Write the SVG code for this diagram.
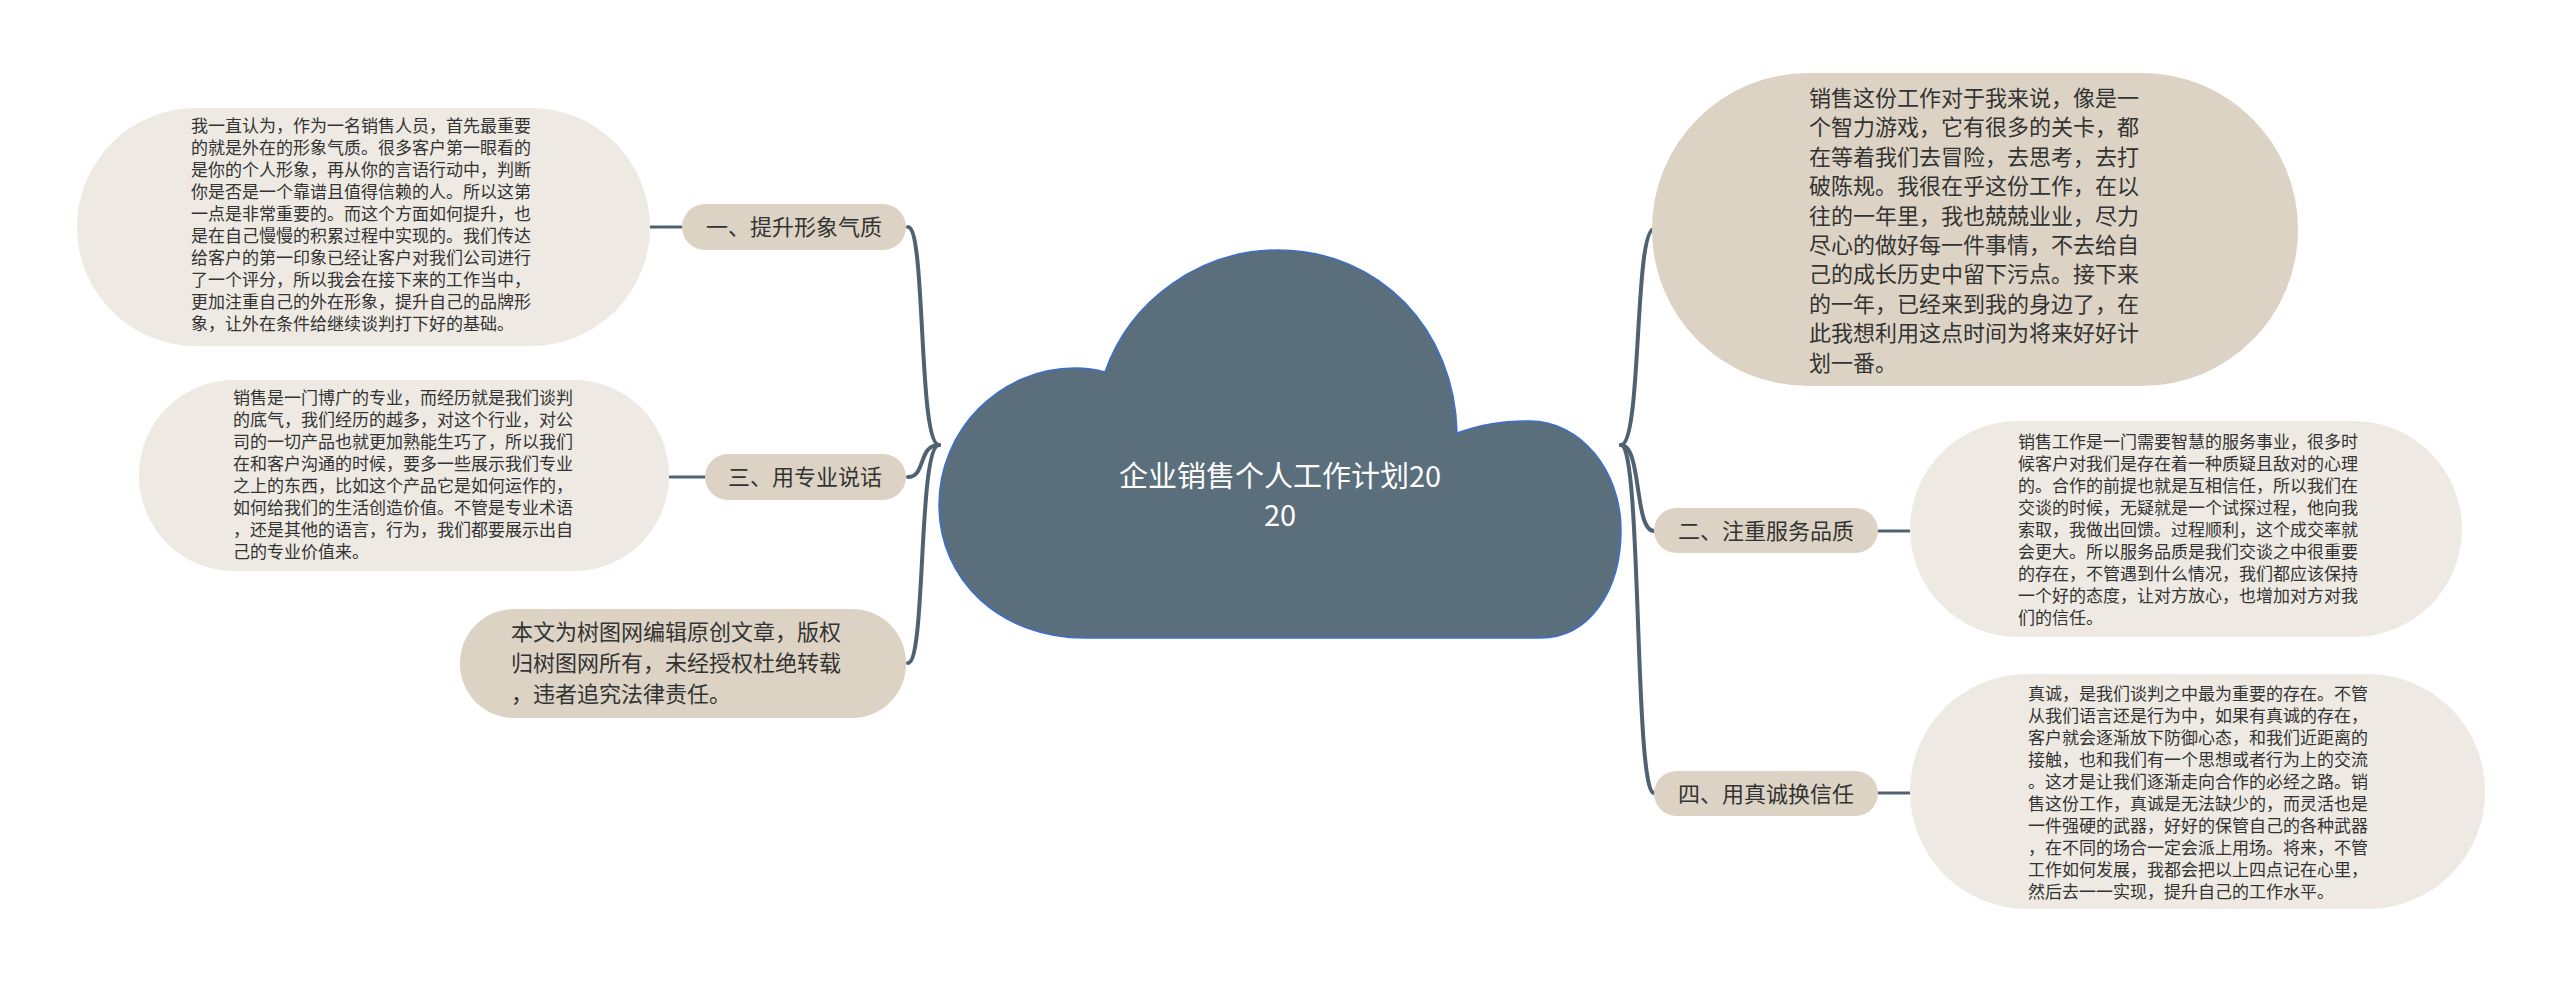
<svg xmlns="http://www.w3.org/2000/svg" width="2560" height="983" viewBox="0 0 2560 983">
<style>
.cjk{font-family:"Noto Sans CJK SC","Noto Sans",sans-serif;fill:#333333}
.small{font-size:17px}
.mid{font-size:22px}
.lbl{font-size:22px;text-anchor:middle}
.beige{fill:#DDD3C4}
.light{fill:#EEEAE3}
.conn{fill:none;stroke:#4F6272;stroke-width:4;stroke-linecap:round}
.link{fill:none;stroke:#4F6272;stroke-width:3}
</style>
<rect width="2560" height="983" fill="#ffffff"/>
<g id="connectors">
<path class="conn" d="M939 445 C918 445 926 227 908 227"/>
<path class="conn" d="M939 445 C918 445 926 477 908 477"/>
<path class="conn" d="M939 445 C918 445 926 663 908 663"/>
<path class="conn" d="M1621 445 C1642 445 1634 229 1654 229"/>
<path class="conn" d="M1621 445 C1642 445 1634 531 1654 531"/>
<path class="conn" d="M1621 445 C1642 445 1634 793 1654 793"/>
<path class="link" d="M650 227 H682"/>
<path class="link" d="M669 477 H705"/>
<path class="link" d="M1878 531 H1910"/>
<path class="link" d="M1878 793 H1910"/>
</g>
<g id="root">
<path d="M1085 638 C1000 638 939 580 939 505 C939 430 1000 368 1075 368 C1088 368 1098 370 1105 372 C1130 300 1200 250 1278 250 C1380 250 1455 330 1457 433 C1480 425 1500 421 1530 421 C1580 421 1621 470 1621 530 C1621 590 1590 638 1540 638 Z" fill="#5B6E7B" stroke="#3A6FD0" stroke-width="1.5"/>
<text class="cjk" font-size="29" text-anchor="middle" style="fill:#ffffff"><tspan x="1280" y="487">企业销售个人工作计划20</tspan><tspan x="1280" y="526">20</tspan></text>
</g>
<g id="n1">
<rect class="beige" x="682" y="204" width="224" height="46" rx="23"/>
<text class="cjk lbl" x="794" y="235">一、提升形象气质</text>
</g>
<g id="n1-detail">
<rect class="light" x="77" y="108" width="573" height="238" rx="119"/>
<text class="cjk small"><tspan x="191" y="132">我一直认为，作为一名销售人员，首先最重要</tspan><tspan x="191" dy="22">的就是外在的形象气质。很多客户第一眼看的</tspan><tspan x="191" dy="22">是你的个人形象，再从你的言语行动中，判断</tspan><tspan x="191" dy="22">你是否是一个靠谱且值得信赖的人。所以这第</tspan><tspan x="191" dy="22">一点是非常重要的。而这个方面如何提升，也</tspan><tspan x="191" dy="22">是在自己慢慢的积累过程中实现的。我们传达</tspan><tspan x="191" dy="22">给客户的第一印象已经让客户对我们公司进行</tspan><tspan x="191" dy="22">了一个评分，所以我会在接下来的工作当中，</tspan><tspan x="191" dy="22">更加注重自己的外在形象，提升自己的品牌形</tspan><tspan x="191" dy="22">象，让外在条件给继续谈判打下好的基础。</tspan></text>
</g>
<g id="n3">
<rect class="beige" x="705" y="454" width="201" height="46" rx="23"/>
<text class="cjk lbl" x="805" y="485">三、用专业说话</text>
</g>
<g id="n3-detail">
<rect class="light" x="139" y="380" width="530" height="191" rx="95"/>
<text class="cjk small"><tspan x="233" y="404">销售是一门博广的专业，而经历就是我们谈判</tspan><tspan x="233" dy="22">的底气，我们经历的越多，对这个行业，对公</tspan><tspan x="233" dy="22">司的一切产品也就更加熟能生巧了，所以我们</tspan><tspan x="233" dy="22">在和客户沟通的时候，要多一些展示我们专业</tspan><tspan x="233" dy="22">之上的东西，比如这个产品它是如何运作的，</tspan><tspan x="233" dy="22">如何给我们的生活创造价值。不管是专业术语</tspan><tspan x="233" dy="22">，还是其他的语言，行为，我们都要展示出自</tspan><tspan x="233" dy="22">己的专业价值来。</tspan></text>
</g>
<g id="copyright">
<rect class="beige" x="460" y="609" width="446" height="109" rx="54"/>
<text class="cjk mid"><tspan x="511" y="640">本文为树图网编辑原创文章，版权</tspan><tspan x="511" dy="31">归树图网所有，未经授权杜绝转载</tspan><tspan x="511" dy="31">，违者追究法律责任。</tspan></text>
</g>
<g id="intro">
<rect class="beige" x="1652" y="73" width="646" height="313" rx="156"/>
<text class="cjk mid"><tspan x="1809" y="106">销售这份工作对于我来说，像是一</tspan><tspan x="1809" dy="29.4">个智力游戏，它有很多的关卡，都</tspan><tspan x="1809" dy="29.4">在等着我们去冒险，去思考，去打</tspan><tspan x="1809" dy="29.4">破陈规。我很在乎这份工作，在以</tspan><tspan x="1809" dy="29.4">往的一年里，我也兢兢业业，尽力</tspan><tspan x="1809" dy="29.4">尽心的做好每一件事情，不去给自</tspan><tspan x="1809" dy="29.4">己的成长历史中留下污点。接下来</tspan><tspan x="1809" dy="29.4">的一年，已经来到我的身边了，在</tspan><tspan x="1809" dy="29.4">此我想利用这点时间为将来好好计</tspan><tspan x="1809" dy="29.4">划一番。</tspan></text>
</g>
<g id="n2">
<rect class="beige" x="1654" y="508" width="224" height="45" rx="22.5"/>
<text class="cjk lbl" x="1766" y="539">二、注重服务品质</text>
</g>
<g id="n2-detail">
<rect class="light" x="1910" y="421" width="552" height="216" rx="108"/>
<text class="cjk small"><tspan x="2018" y="448">销售工作是一门需要智慧的服务事业，很多时</tspan><tspan x="2018" dy="22">候客户对我们是存在着一种质疑且敌对的心理</tspan><tspan x="2018" dy="22">的。合作的前提也就是互相信任，所以我们在</tspan><tspan x="2018" dy="22">交谈的时候，无疑就是一个试探过程，他向我</tspan><tspan x="2018" dy="22">索取，我做出回馈。过程顺利，这个成交率就</tspan><tspan x="2018" dy="22">会更大。所以服务品质是我们交谈之中很重要</tspan><tspan x="2018" dy="22">的存在，不管遇到什么情况，我们都应该保持</tspan><tspan x="2018" dy="22">一个好的态度，让对方放心，也增加对方对我</tspan><tspan x="2018" dy="22">们的信任。</tspan></text>
</g>
<g id="n4">
<rect class="beige" x="1654" y="771" width="224" height="45" rx="22.5"/>
<text class="cjk lbl" x="1766" y="802">四、用真诚换信任</text>
</g>
<g id="n4-detail">
<rect class="light" x="1910" y="674" width="575" height="235" rx="117"/>
<text class="cjk small"><tspan x="2028" y="700">真诚，是我们谈判之中最为重要的存在。不管</tspan><tspan x="2028" dy="22">从我们语言还是行为中，如果有真诚的存在，</tspan><tspan x="2028" dy="22">客户就会逐渐放下防御心态，和我们近距离的</tspan><tspan x="2028" dy="22">接触，也和我们有一个思想或者行为上的交流</tspan><tspan x="2028" dy="22">。这才是让我们逐渐走向合作的必经之路。销</tspan><tspan x="2028" dy="22">售这份工作，真诚是无法缺少的，而灵活也是</tspan><tspan x="2028" dy="22">一件强硬的武器，好好的保管自己的各种武器</tspan><tspan x="2028" dy="22">，在不同的场合一定会派上用场。将来，不管</tspan><tspan x="2028" dy="22">工作如何发展，我都会把以上四点记在心里，</tspan><tspan x="2028" dy="22">然后去一一实现，提升自己的工作水平。</tspan></text>
</g>
</svg>
